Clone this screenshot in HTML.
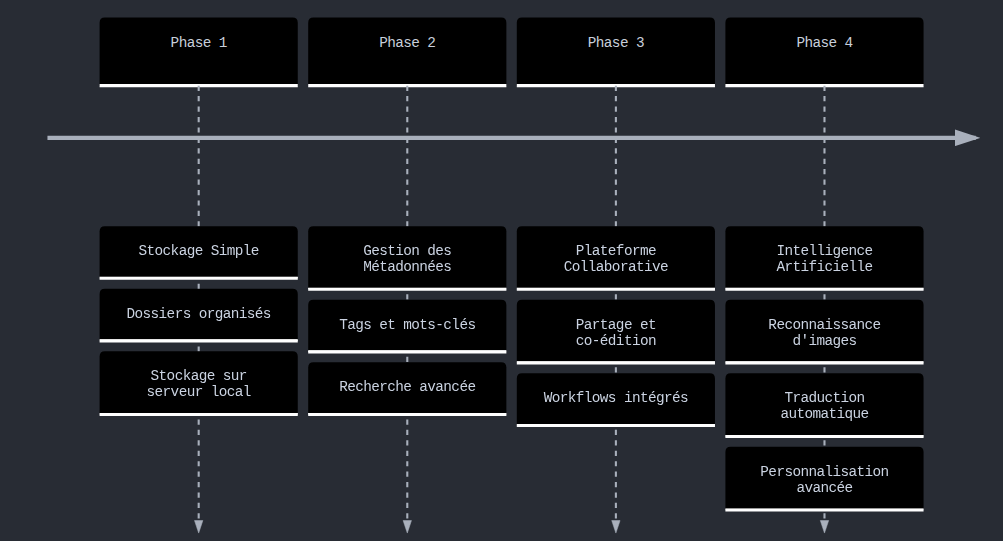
<!DOCTYPE html>
<html><head><meta charset="utf-8"><style>
html,body{margin:0;padding:0;background:#282c34;width:1003px;height:541px;overflow:hidden}
svg{display:block}
.ev{filter:brightness(120%)}
.t{font-family:"Liberation Mono",monospace;font-size:13.8px;text-anchor:middle;dominant-baseline:middle;letter-spacing:-0.585px}
</style></head><body>
<svg width="1003" height="541" viewBox="0 0 1003 541">
<defs><marker id="ah" refX="5" refY="2" markerWidth="6" markerHeight="4" orient="auto"><path d="M 0,0 V 4 L6.1,2 Z" fill="#a9b0bc"/></marker><marker id="ahv" refX="5" refY="2" markerWidth="8" markerHeight="6" orient="auto" overflow="visible"><path d="M 0,0 V 4 L6,2 Z" fill="#a9b0bc" stroke="#a9b0bc" stroke-width="0.25"/></marker></defs>
<g transform="scale(1.043) translate(-4.506,-33.17)">
<g><path d="M100 110.3 v-55.3 q0,-5 5,-5 h180 q5,0 5,5 v60.3 H100 Z" fill="#000000"/><line x1="100" y1="115.3" x2="290" y2="115.3" stroke="#ffffff" stroke-width="3"/><text x="195" y="74.8" class="t" fill="#c8cfdb">Phase 1</text></g><line x1="195" y1="115.3" x2="195" y2="542.26" stroke="#a9b0bc" stroke-width="2" stroke-dasharray="5,5" marker-end="url(#ahv)"/><g class="ev"><path d="M100 295 v-40 q0,-5 5,-5 h180 q5,0 5,5 v45 H100 Z" fill="#000000"/><line x1="100" y1="300" x2="290" y2="300" stroke="#ffffff" stroke-width="3"/><text x="195" y="274.0" class="t" fill="#a9b0bc">Stockage Simple</text></g><g class="ev"><path d="M100 355 v-40 q0,-5 5,-5 h180 q5,0 5,5 v45 H100 Z" fill="#000000"/><line x1="100" y1="360" x2="290" y2="360" stroke="#ffffff" stroke-width="3"/><text x="195" y="334.0" class="t" fill="#a9b0bc">Dossiers organisés</text></g><g class="ev"><path d="M100 425.54 v-50.54 q0,-5 5,-5 h180 q5,0 5,5 v55.54 H100 Z" fill="#000000"/><line x1="100" y1="430.54" x2="290" y2="430.54" stroke="#ffffff" stroke-width="3"/><text x="195" y="394.0" class="t" fill="#a9b0bc">Stockage sur</text><text x="195" y="409.4" class="t" fill="#a9b0bc">serveur local</text></g><g><path d="M300 110.3 v-55.3 q0,-5 5,-5 h180 q5,0 5,5 v60.3 H300 Z" fill="#000000"/><line x1="300" y1="115.3" x2="490" y2="115.3" stroke="#ffffff" stroke-width="3"/><text x="395" y="74.8" class="t" fill="#c8cfdb">Phase 2</text></g><line x1="395" y1="115.3" x2="395" y2="542.26" stroke="#a9b0bc" stroke-width="2" stroke-dasharray="5,5" marker-end="url(#ahv)"/><g class="ev"><path d="M300 305.54 v-50.54 q0,-5 5,-5 h180 q5,0 5,5 v55.54 H300 Z" fill="#000000"/><line x1="300" y1="310.54" x2="490" y2="310.54" stroke="#ffffff" stroke-width="3"/><text x="395" y="274.0" class="t" fill="#a9b0bc">Gestion des</text><text x="395" y="289.4" class="t" fill="#a9b0bc">Métadonnées</text></g><g class="ev"><path d="M300 365.53999999999996 v-40 q0,-5 5,-5 h180 q5,0 5,5 v45 H300 Z" fill="#000000"/><line x1="300" y1="370.53999999999996" x2="490" y2="370.53999999999996" stroke="#ffffff" stroke-width="3"/><text x="395" y="344.53999999999996" class="t" fill="#a9b0bc">Tags et mots-clés</text></g><g class="ev"><path d="M300 425.53999999999996 v-40 q0,-5 5,-5 h180 q5,0 5,5 v45 H300 Z" fill="#000000"/><line x1="300" y1="430.53999999999996" x2="490" y2="430.53999999999996" stroke="#ffffff" stroke-width="3"/><text x="395" y="404.53999999999996" class="t" fill="#a9b0bc">Recherche avancée</text></g><g><path d="M500 110.3 v-55.3 q0,-5 5,-5 h180 q5,0 5,5 v60.3 H500 Z" fill="#000000"/><line x1="500" y1="115.3" x2="690" y2="115.3" stroke="#ffffff" stroke-width="3"/><text x="595" y="74.8" class="t" fill="#c8cfdb">Phase 3</text></g><line x1="595" y1="115.3" x2="595" y2="542.26" stroke="#a9b0bc" stroke-width="2" stroke-dasharray="5,5" marker-end="url(#ahv)"/><g class="ev"><path d="M500 305.54 v-50.54 q0,-5 5,-5 h180 q5,0 5,5 v55.54 H500 Z" fill="#000000"/><line x1="500" y1="310.54" x2="690" y2="310.54" stroke="#ffffff" stroke-width="3"/><text x="595" y="274.0" class="t" fill="#a9b0bc">Plateforme</text><text x="595" y="289.4" class="t" fill="#a9b0bc">Collaborative</text></g><g class="ev"><path d="M500 376.08 v-50.54 q0,-5 5,-5 h180 q5,0 5,5 v55.54 H500 Z" fill="#000000"/><line x1="500" y1="381.08" x2="690" y2="381.08" stroke="#ffffff" stroke-width="3"/><text x="595" y="344.53999999999996" class="t" fill="#a9b0bc">Partage et</text><text x="595" y="359.93999999999994" class="t" fill="#a9b0bc">co-édition</text></g><g class="ev"><path d="M500 436.0799999999999 v-40 q0,-5 5,-5 h180 q5,0 5,5 v45 H500 Z" fill="#000000"/><line x1="500" y1="441.0799999999999" x2="690" y2="441.0799999999999" stroke="#ffffff" stroke-width="3"/><text x="595" y="415.0799999999999" class="t" fill="#a9b0bc">Workflows intégrés</text></g><g><path d="M700 110.3 v-55.3 q0,-5 5,-5 h180 q5,0 5,5 v60.3 H700 Z" fill="#000000"/><line x1="700" y1="115.3" x2="890" y2="115.3" stroke="#ffffff" stroke-width="3"/><text x="795" y="74.8" class="t" fill="#c8cfdb">Phase 4</text></g><line x1="795" y1="115.3" x2="795" y2="542.26" stroke="#a9b0bc" stroke-width="2" stroke-dasharray="5,5" marker-end="url(#ahv)"/><g class="ev"><path d="M700 305.54 v-50.54 q0,-5 5,-5 h180 q5,0 5,5 v55.54 H700 Z" fill="#000000"/><line x1="700" y1="310.54" x2="890" y2="310.54" stroke="#ffffff" stroke-width="3"/><text x="795" y="274.0" class="t" fill="#a9b0bc">Intelligence</text><text x="795" y="289.4" class="t" fill="#a9b0bc">Artificielle</text></g><g class="ev"><path d="M700 376.08 v-50.54 q0,-5 5,-5 h180 q5,0 5,5 v55.54 H700 Z" fill="#000000"/><line x1="700" y1="381.08" x2="890" y2="381.08" stroke="#ffffff" stroke-width="3"/><text x="795" y="344.53999999999996" class="t" fill="#a9b0bc">Reconnaissance</text><text x="795" y="359.93999999999994" class="t" fill="#a9b0bc">d&#39;images</text></g><g class="ev"><path d="M700 446.61999999999995 v-50.54 q0,-5 5,-5 h180 q5,0 5,5 v55.54 H700 Z" fill="#000000"/><line x1="700" y1="451.61999999999995" x2="890" y2="451.61999999999995" stroke="#ffffff" stroke-width="3"/><text x="795" y="415.0799999999999" class="t" fill="#a9b0bc">Traduction</text><text x="795" y="430.4799999999999" class="t" fill="#a9b0bc">automatique</text></g><g class="ev"><path d="M700 517.1599999999999 v-50.54 q0,-5 5,-5 h180 q5,0 5,5 v55.54 H700 Z" fill="#000000"/><line x1="700" y1="522.1599999999999" x2="890" y2="522.1599999999999" stroke="#ffffff" stroke-width="3"/><text x="795" y="485.6199999999999" class="t" fill="#a9b0bc">Personnalisation</text><text x="795" y="501.01999999999987" class="t" fill="#a9b0bc">avancée</text></g><line x1="50" y1="165.3" x2="940" y2="165.3" stroke="#a9b0bc" stroke-width="4" marker-end="url(#ah)"/>
</g></svg>
</body></html>
